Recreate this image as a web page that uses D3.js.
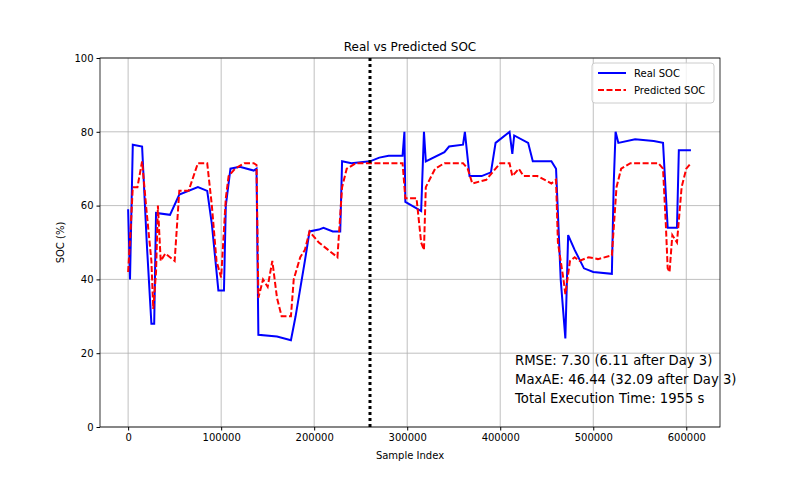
<!DOCTYPE html>
<html><head><meta charset="utf-8">
<script src="https://cdn.jsdelivr.net/npm/d3@7"></script>
<style>body{margin:0;background:#fff}text{font-family:"DejaVu Sans",sans-serif}</style>
</head><body>
<script>
// Real SOC: [sample index, SOC %]
const realSOC = [[0,59],[2000,40],[5000,76.5],[15000,76],[20000,50],[25000,28],[28000,28],[30000,58],[45000,57.5],[55000,63],[75000,65],[85000,64],[90000,55],[97000,37],[103000,37],[105000,60],[110000,70],[120000,70.5],[135000,69.5],[138000,70],[140000,25],[160000,24.5],[175000,23.5],[180000,30],[190000,45],[195000,53],[205000,53.5],[210000,54],[220000,53],[228000,53],[230000,72],[240000,71.5],[260000,72],[270000,73],[280000,73.5],[295000,73.5],[297000,80],[298000,61],[305000,60],[315000,58.5],[318000,80],[320000,72],[340000,74.5],[345000,76],[360000,76.5],[362000,80],[367000,68],[380000,68],[390000,69],[395000,77],[410000,80],[413000,74],[415000,79],[430000,77],[435000,72],[455000,72],[460000,70],[465000,40],[470000,24],[473000,52],[480000,48],[490000,43],[500000,42],[520000,41.5],[522000,66],[524000,80],[527000,77],[545000,78],[565000,77.5],[575000,77],[580000,54],[590000,54],[592000,75],[605000,75]];
// Predicted SOC
const predSOC = [[0,42],[3000,55],[5000,65],[10000,65],[15000,72],[20000,58],[25000,45],[27000,32],[30000,42],[32000,60],[35000,45],[40000,47],[50000,45],[55000,64],[65000,64],[75000,71.5],[85000,71.5],[90000,60],[95000,45],[100000,40.5],[105000,62],[108000,68],[115000,70],[125000,71.5],[135000,71.5],[138000,71],[140000,35],[145000,40],[150000,38],[155000,45],[160000,35],[165000,30],[175000,30],[178000,40],[185000,46],[190000,48],[195000,53],[205000,50],[215000,48],[225000,46],[230000,65],[235000,70],[245000,71.5],[295000,71.5],[298000,62],[310000,62],[315000,50],[318000,48],[320000,65],[330000,70],[340000,71.5],[360000,71.5],[365000,70],[370000,66],[385000,67],[395000,70],[400000,71.5],[410000,71.5],[413000,68],[420000,70],[425000,68],[440000,68],[455000,66],[460000,67],[462000,50],[468000,40],[470000,36],[475000,45],[480000,46],[485000,45],[495000,46],[505000,45.5],[520000,46.5],[525000,65],[530000,70],[540000,71.5],[570000,71.5],[575000,70],[578000,55],[580000,43],[582000,42],[585000,52],[590000,50],[595000,65],[600000,70],[605000,71.5]];
const xTicks = [0,100000,200000,300000,400000,500000,600000];
const yTicks = [0,20,40,60,80,100];
const day3Index = 260000;
const stats = ["RMSE: 7.30 (6.11 after Day 3)","MaxAE: 46.44 (32.09 after Day 3)","Total Execution Time: 1955 s"];

const W=800,H=480, m={l:100,r:80,t:58,b:53};
const svg=d3.select("body").append("svg").attr("width",W).attr("height",H);
const x=d3.scaleLinear().domain([-30250,636250]).range([m.l,W-m.r]);
const y=d3.scaleLinear().domain([0,100]).range([H-m.b,m.t]);

const g=svg.append("g");
g.selectAll(".gx").data(xTicks).join("line").attr("x1",x).attr("x2",x).attr("y1",m.t).attr("y2",H-m.b).attr("stroke","#b0b0b0").attr("stroke-width",0.8);
g.selectAll(".gy").data(yTicks).join("line").attr("y1",y).attr("y2",y).attr("x1",m.l).attr("x2",W-m.r).attr("stroke","#b0b0b0").attr("stroke-width",0.8);

const line=d3.line().x(d=>x(d[0])).y(d=>y(d[1]));
svg.append("path").datum(realSOC).attr("d",line).attr("fill","none").attr("stroke","#0000ff").attr("stroke-width",2);
svg.append("path").datum(predSOC).attr("d",line).attr("fill","none").attr("stroke","#ff0000").attr("stroke-width",2).attr("stroke-dasharray","6,2.5");
svg.append("line").attr("x1",x(day3Index)).attr("x2",x(day3Index)).attr("y1",m.t).attr("y2",H-m.b).attr("stroke","#000").attr("stroke-width",3).attr("stroke-dasharray","3,3");

const xa=svg.append("g").attr("transform",`translate(0,${H-m.b})`).call(d3.axisBottom(x).tickValues(xTicks).tickFormat(d3.format("d")).tickSize(3.5).tickPadding(3));
const ya=svg.append("g").attr("transform",`translate(${m.l},0)`).call(d3.axisLeft(y).tickValues(yTicks).tickSize(3.5).tickPadding(3));
[xa,ya].forEach(a=>{a.select(".domain").remove();a.selectAll("text").attr("font-size",10).attr("fill","#000").attr("font-family","DejaVu Sans");});
svg.append("rect").attr("x",m.l).attr("y",m.t).attr("width",W-m.l-m.r).attr("height",H-m.t-m.b).attr("fill","none").attr("stroke","#000").attr("stroke-width",0.8);

svg.append("text").attr("x",(m.l+W-m.r)/2).attr("y",51).attr("text-anchor","middle").attr("font-size",12).text("Real vs Predicted SOC");
svg.append("text").attr("x",(m.l+W-m.r)/2).attr("y",459).attr("text-anchor","middle").attr("font-size",10).text("Sample Index");
svg.append("text").attr("transform",`translate(64,${(m.t+H-m.b)/2}) rotate(-90)`).attr("text-anchor","middle").attr("font-size",10).text("SOC (%)");

const lg=svg.append("g").attr("transform","translate(592,63)");
lg.append("rect").attr("width",122).attr("height",40).attr("rx",3).attr("fill","#fff").attr("fill-opacity",0.8).attr("stroke","#ccc");
[["Real SOC","#0000ff",null],["Predicted SOC","#ff0000","6,2.5"]].forEach((d,i)=>{
  lg.append("line").attr("x1",6).attr("x2",34).attr("y1",10+i*17).attr("y2",10+i*17).attr("stroke",d[1]).attr("stroke-width",2).attr("stroke-dasharray",d[2]);
  lg.append("text").attr("x",42).attr("y",14+i*17).attr("font-size",10).text(d[0]);
});
svg.selectAll(".st").data(stats).join("text").attr("x",515).attr("y",(d,i)=>365+i*19).attr("font-size",13.2).text(d=>d);
</script>
</body></html>
